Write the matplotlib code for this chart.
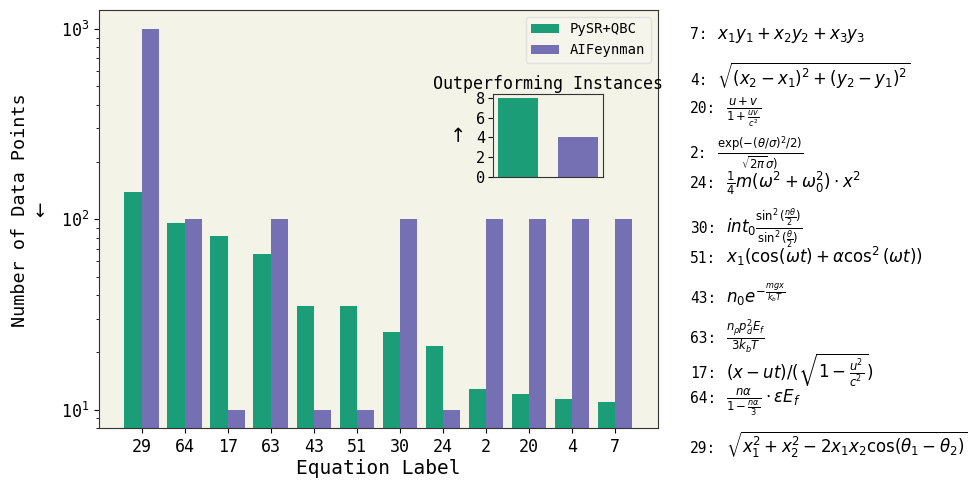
import numpy as np
import matplotlib
matplotlib.use("Agg")
import matplotlib.pyplot as plt

# equation labels, sorted by PySR+QBC data need
labels = ["29", "64", "17", "63", "43", "51", "30", "24", "2", "20", "4", "7"]
pysr_qbc = [139, 96, 82, 66, 35, 35, 25.5, 21.5, 12.8, 12.1, 11.3, 10.9]
aifeynman = [1000, 100, 10, 100, 10, 10, 100, 10, 100, 100, 100, 100]

methods = ["PySR+QBC", "AIFeynman"]
outperforming = [8, 4]

equations = {
    "7": r"$x_1y_1+x_2y_2+x_3y_3$",
    "4": r"$\sqrt{(x_2-x_1)^2+(y_2-y_1)^2}$",
    "20": r"$\frac{u+v}{1+\frac{uv}{c^2}}$",
    "2": r"$\frac{\exp(-(\theta/\sigma)^2/2)}{\sqrt{2\pi}\sigma)}$",
    "24": r"$\frac{1}{4}m(\omega^2+\omega_0^2)\cdot x^2$",
    "30": r"$int_0\frac{\sin^2(\frac{n\theta}{2})}{\sin^2(\frac{\theta}{2})}$",
    "51": r"$x_1(\cos(\omega t)+\alpha\cos^2(\omega t))$",
    "43": r"$n_0e^{-\frac{mgx}{k_bT}}$",
    "63": r"$\frac{n_\rho p_d^2E_f}{3k_bT}$",
    "17": r"$(x-ut)/(\sqrt{1-\frac{u^2}{c^2}})$",
    "64": r"$\frac{n\alpha}{1-\frac{n\alpha}{3}}\cdot\varepsilon E_f$",
    "29": r"$\sqrt{x_1^2+x_2^2-2x_1x_2\cos(\theta_1-\theta_2)}$",
}
# baselines of the equation lines, in pixels from the top
eq_baselines = [39, 85, 113, 158, 188, 233, 263, 303, 343, 378, 403, 453]

green = "#1b9e77"
purple = "#7570b3"
bg = "#f3f3e8"

plt.rcParams["font.family"] = ["DejaVu Sans Mono", "DejaVu Sans"]
plt.rcParams["mathtext.fontset"] = "dejavusans"

W, H = 979, 490
fig = plt.figure(figsize=(W / 100, H / 100), dpi=100)
ax = fig.add_axes([0.101, 0.1265, 0.571, 0.8535])
ax.set_facecolor(bg)

x = np.arange(len(labels))
w = 0.4
ax.bar(x - w / 2, pysr_qbc, w, color=green, label=methods[0])
ax.bar(x + w / 2, aifeynman, w, color=purple, label=methods[1])
ax.set_yscale("log")
ax.set_ylim(8, 1259)
ax.set_xticks(x)
ax.set_xticklabels(labels)
ax.tick_params(labelsize=12)
ax.set_xlabel("Equation Label", fontsize=14, labelpad=2)
ax.set_ylabel("Number of Data Points\n$\\leftarrow$", fontsize=13.3)
ax.yaxis.set_label_coords(-0.088, 0.52)
for s in ax.spines.values():
    s.set_color("#333333")
ax.legend(loc="upper right", fontsize=10, facecolor="#f6f6ee", edgecolor="#dddddd")

# inset: how many times each method wins
ins = fig.add_axes([0.5036, 0.639, 0.1124, 0.169])
ins.set_facecolor(bg)
ins.bar([0, 1], outperforming, 0.66, color=[green, purple])
ins.set_xticks([])
ins.set_yticks([0, 2, 4, 6, 8])
ins.tick_params(labelsize=11, pad=2)
ins.set_title("Outperforming Instances", fontsize=12, pad=4)
ins.set_ylabel("$\\rightarrow$", fontsize=14, labelpad=6)
for s in ins.spines.values():
    s.set_color("#333333")

# equation list, reverse of bar order
renderer = fig.canvas.get_renderer()
for k, yb in zip(labels[::-1], eq_baselines):
    t = fig.text(690 / W, 1 - yb / H, f"{k}:", fontsize=10.5, va="baseline")
    bb = t.get_window_extent(renderer)
    fig.text((bb.x1 + 10) / W, 1 - yb / H, equations[k], fontsize=12,
             va="baseline", ha="left")

fig.savefig("out.png", dpi=100)
